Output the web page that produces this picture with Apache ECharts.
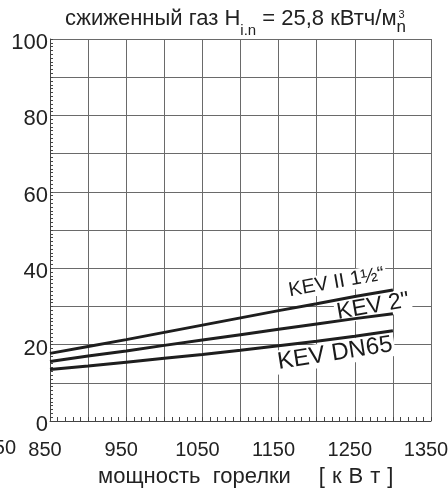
<!DOCTYPE html>
<html>
<head>
<meta charset="utf-8">
<script src="https://cdn.jsdelivr.net/npm/echarts@6/dist/echarts.min.js"></script>
<style>
  html, body { margin: 0; padding: 0; background: #fff; }
  #chart { width: 448px; height: 488px; }
</style>
</head>
<body>
<div id="chart"></div>
<script>
// ---- data ----
const powerKW = [850, 900, 950, 1000, 1050, 1100, 1150, 1200, 1250, 1300];
const kevII = [17.7, 19.5, 21.3, 23.2, 25.1, 27.0, 28.9, 30.7, 32.6, 34.3];
const kev2 = [15.6, 17.0, 18.3, 19.8, 21.2, 22.6, 24.0, 25.4, 26.8, 28.1];
const kevDN65 = [13.5, 14.4, 15.4, 16.4, 17.4, 18.5, 19.7, 20.9, 22.2, 23.6];
const seriesNames = ['KEV II 1½“', 'KEV 2"', 'KEV DN65'];
const xTickLabels = [850, 950, 1050, 1150, 1250, 1350];
const yTickLabels = [0, 20, 40, 60, 80, 100];

const FONT = "'Liberation Sans', Arial, Helvetica, sans-serif";
const INK = '#1e1e1e';
const GRIDC = '#6a6a6a';

const chart = echarts.init(document.getElementById('chart'), null, { renderer: 'canvas' });

function pairs(ys) { return powerKW.map((x, i) => [x, ys[i]]); }

const option = {
  animation: false,
  backgroundColor: '#fff',
  grid: { left: 50, right: 17, top: 39, bottom: 67, containLabel: false, outerBoundsMode: 'none' },
  xAxis: {
    type: 'value', min: 850, max: 1350, interval: 50,
    axisLine: { show: true, lineStyle: { color: '#444', width: 1 } },
    axisTick: { show: true, inside: true, length: 4, lineStyle: { color: '#444' } },
    minorTick: { show: true, splitNumber: 5, length: 4, lineStyle: { color: '#444', width: 1 } },
    splitLine: { show: true, lineStyle: { color: GRIDC, width: 1 } },
    axisLabel: {
      margin: 19, fontSize: 20, fontFamily: FONT, color: '#222',
      padding: [0, 10, 0, 0], hideOverlap: false,
      formatter: v => (xTickLabels.indexOf(v) >= 0 ? String(v) : '')
    },
    name: '{t|мощность  горелки    }{b|[}{b|к}{b|В}{b|т}{b|]}',
    nameLocation: 'middle', nameGap: 45,
    nameTextStyle: {
      padding: [0, 0, 0, 14],
      rich: {
        t: { fontSize: 22, fontFamily: FONT, color: '#222' },
        b: { fontSize: 22, fontFamily: FONT, color: '#222', padding: [0, 3.5] }
      }
    }
  },
  yAxis: {
    type: 'value', min: 0, max: 100, interval: 10,
    axisLine: { show: true, lineStyle: { color: '#444', width: 1 } },
    axisTick: { show: true, inside: true, length: 3, lineStyle: { color: '#444' } },
    minorTick: { show: true, splitNumber: 10, length: 3, lineStyle: { color: '#444', width: 1 } },
    splitLine: { show: true, lineStyle: { color: GRIDC, width: 1 } },
    axisLabel: {
      margin: 2, fontSize: 22, fontFamily: FONT, color: '#222',
      verticalAlign: 'top', lineHeight: 8,
      formatter: v => (yTickLabels.indexOf(v) >= 0 ? String(v) : '')
    }
  },
  series: [
    { name: seriesNames[0], type: 'line', data: pairs(kevII) },
    { name: seriesNames[1], type: 'line', data: pairs(kev2) },
    { name: seriesNames[2], type: 'line', data: pairs(kevDN65) }
  ].map(s => Object.assign(s, {
    showSymbol: false, symbol: 'none', z: 3,
    lineStyle: { color: INK, width: 3 }
  }))
};
chart.setOption(option);

// ---- text helpers ----
const mctx = document.createElement('canvas').getContext('2d');
function tw(text, size) { mctx.font = size + 'px ' + FONT; return mctx.measureText(text).width; }

function txt(text, x, y, size, extra) {
  return {
    type: 'text', x: x, y: y, z: 1,
    style: Object.assign({
      text: text, fontSize: size, fontFamily: FONT, fill: '#222',
      align: 'left', verticalAlign: 'middle'
    }, extra || {})
  };
}

// title pieces
const T1 = 'сжиженный газ H', TS = 'i.n', T2 = ' = 25,8 кВтч/м';
const tSize = 22, sSize = 15;
let tx = 65;
const titleEls = [];
titleEls.push(txt(T1, tx, 19, tSize)); tx += tw(T1, tSize);
titleEls.push(txt(TS, tx, 31, sSize)); tx += tw(TS, sSize);
titleEls.push(txt(T2, tx, 19, tSize)); tx += tw(T2, tSize);
titleEls.push(txt('3', tx + 2, 15, 11));
titleEls.push(txt('n', tx, 27, 17));

// curve labels, anchored in data coordinates
const labelDefs = [
  { text: seriesNames[0], at: [1226, 36.3], size: 20, rot: 10 },
  { text: seriesNames[1], at: [1274, 30.0], size: 23, rot: 10 },
  { text: seriesNames[2], at: [1224, 17.7], size: 24, rot: 9 }
];
const curveEls = labelDefs.map(d => {
  const p = chart.convertToPixel({ gridIndex: 0 }, d.at);
  return {
    type: 'text', x: p[0], y: p[1], z: 1,
    rotation: d.rot * Math.PI / 180,
    style: {
      text: d.text, fontSize: d.size, fontFamily: FONT, fill: '#1a1a1a',
      align: 'center', verticalAlign: 'middle',
      backgroundColor: '#fff', padding: [0, 2]
    }
  };
});

// clipped fragment of an earlier tick label at the far left
const fragEl = txt('50', 16, 448, 20, { align: 'right' });

chart.setOption({ graphic: { elements: titleEls.concat(curveEls, [fragEl]) } });
</script>
</body>
</html>
